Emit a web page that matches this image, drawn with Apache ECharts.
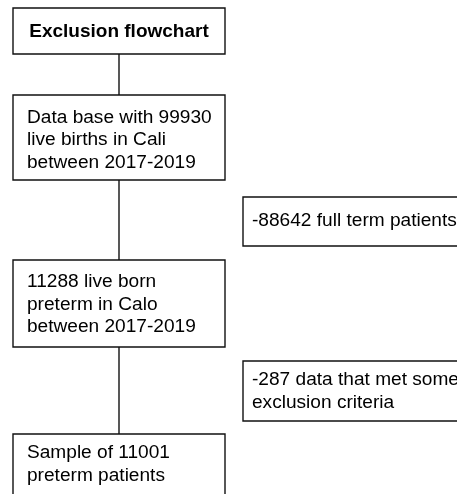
<!DOCTYPE html>
<html>
<head>
<meta charset="utf-8">
<script src="https://cdn.jsdelivr.net/npm/echarts@6/dist/echarts.min.js"></script>
<style>
html,body{margin:0;padding:0;background:#fff;}
#chart{width:457px;height:494px;}
</style>
</head>
<body>
<div id="chart"></div>
<script>
// ---- content ----
const titleText = 'Exclusion flowchart';
const stepCounts = [99930, 11288, 11001];
const excludedCounts = [88642, 287];
const stepTexts = [
  'Data base with ' + stepCounts[0] + '\nlive births in Cali\nbetween 2017-2019',
  stepCounts[1] + ' live born\npreterm in Calo\nbetween 2017-2019',
  'Sample of ' + stepCounts[2] + '\npreterm patients'
];
const exclusionTexts = [
  '-' + excludedCounts[0] + ' full term patients',
  '-' + excludedCounts[1] + ' data that met some\nexclusion criteria'
];

// ---- layout (chart units, y downwards) ----
const mainCol = { x0: 13, x1: 225, textX: 27 };
const sideCol = { x0: 243, x1: 475, textX: 252 };
const titleBox = { y0: 8, y1: 54, textY: 31.5 };
const stepBoxes = [
  { y0: 95, y1: 180, textY: 140 },
  { y0: 260, y1: 347, textY: 304.5 },
  { y0: 434, y1: 520, textY: 464.5 }
];
const sideBoxes = [
  { y0: 197, y1: 246, textY: 220.5 },
  { y0: 361, y1: 421, textY: 391 }
];

const FONT = '19.1px "Liberation Sans", Arial, Helvetica, sans-serif';
const FONT_BOLD = 'bold 19px "Liberation Sans", Arial, Helvetica, sans-serif';
const STROKE = '#111';

// build node list
const nodes = [];
nodes.push({ col: mainCol, box: titleBox, text: titleText, bold: true, center: true });
stepTexts.forEach((t, i) => nodes.push({ col: mainCol, box: stepBoxes[i], text: t }));
exclusionTexts.forEach((t, i) => nodes.push({ col: sideCol, box: sideBoxes[i], text: t }));

// connectors: from bottom of box above to top of box below (main column)
const chain = [titleBox].concat(stepBoxes);
const connectors = [];
for (let i = 0; i < chain.length - 1; i++) {
  const xc = (mainCol.x0 + mainCol.x1) / 2;
  connectors.push([xc, chain[i].y1, xc, chain[i + 1].y0]);
}

const chart = echarts.init(document.getElementById('chart'), null, { renderer: 'canvas' });

option = {
  animation: false,
  backgroundColor: '#fff',
  grid: { left: 0, right: 0, top: 0, bottom: 0 },
  xAxis: { type: 'value', min: 0, max: 457, show: false },
  yAxis: { type: 'value', min: 0, max: 494, inverse: true, show: false },
  series: [
    {
      type: 'custom',
      coordinateSystem: 'cartesian2d',
      data: connectors,
      renderItem: function (params, api) {
        const p0 = api.coord([api.value(0), api.value(1)]);
        const p1 = api.coord([api.value(2), api.value(3)]);
        return {
          type: 'line',
          shape: { x1: p0[0], y1: p0[1], x2: p1[0], y2: p1[1] },
          style: { stroke: STROKE, lineWidth: 1.4 }
        };
      }
    },
    {
      type: 'custom',
      coordinateSystem: 'cartesian2d',
      data: nodes.map(n => [n.col.x0, n.box.y0, n.col.x1, n.box.y1]),
      renderItem: function (params, api) {
        const n = nodes[params.dataIndex];
        const a = api.coord([api.value(0), api.value(1)]);
        const b = api.coord([api.value(2), api.value(3)]);
        const tp = api.coord([n.center ? (n.col.x0 + n.col.x1) / 2 : n.col.textX, n.box.textY]);
        return {
          type: 'group',
          children: [
            {
              type: 'rect',
              shape: { x: a[0], y: a[1], width: b[0] - a[0], height: b[1] - a[1] },
              style: { fill: '#fff', stroke: STROKE, lineWidth: 1.4 }
            },
            {
              type: 'text',
              style: {
                text: n.text,
                x: tp[0],
                y: tp[1],
                font: n.bold ? FONT_BOLD : FONT,
                fill: '#000',
                align: n.center ? 'center' : 'left',
                verticalAlign: 'middle',
                lineHeight: 22.6
              }
            }
          ]
        };
      }
    }
  ]
};
chart.setOption(option);
</script>
</body>
</html>
